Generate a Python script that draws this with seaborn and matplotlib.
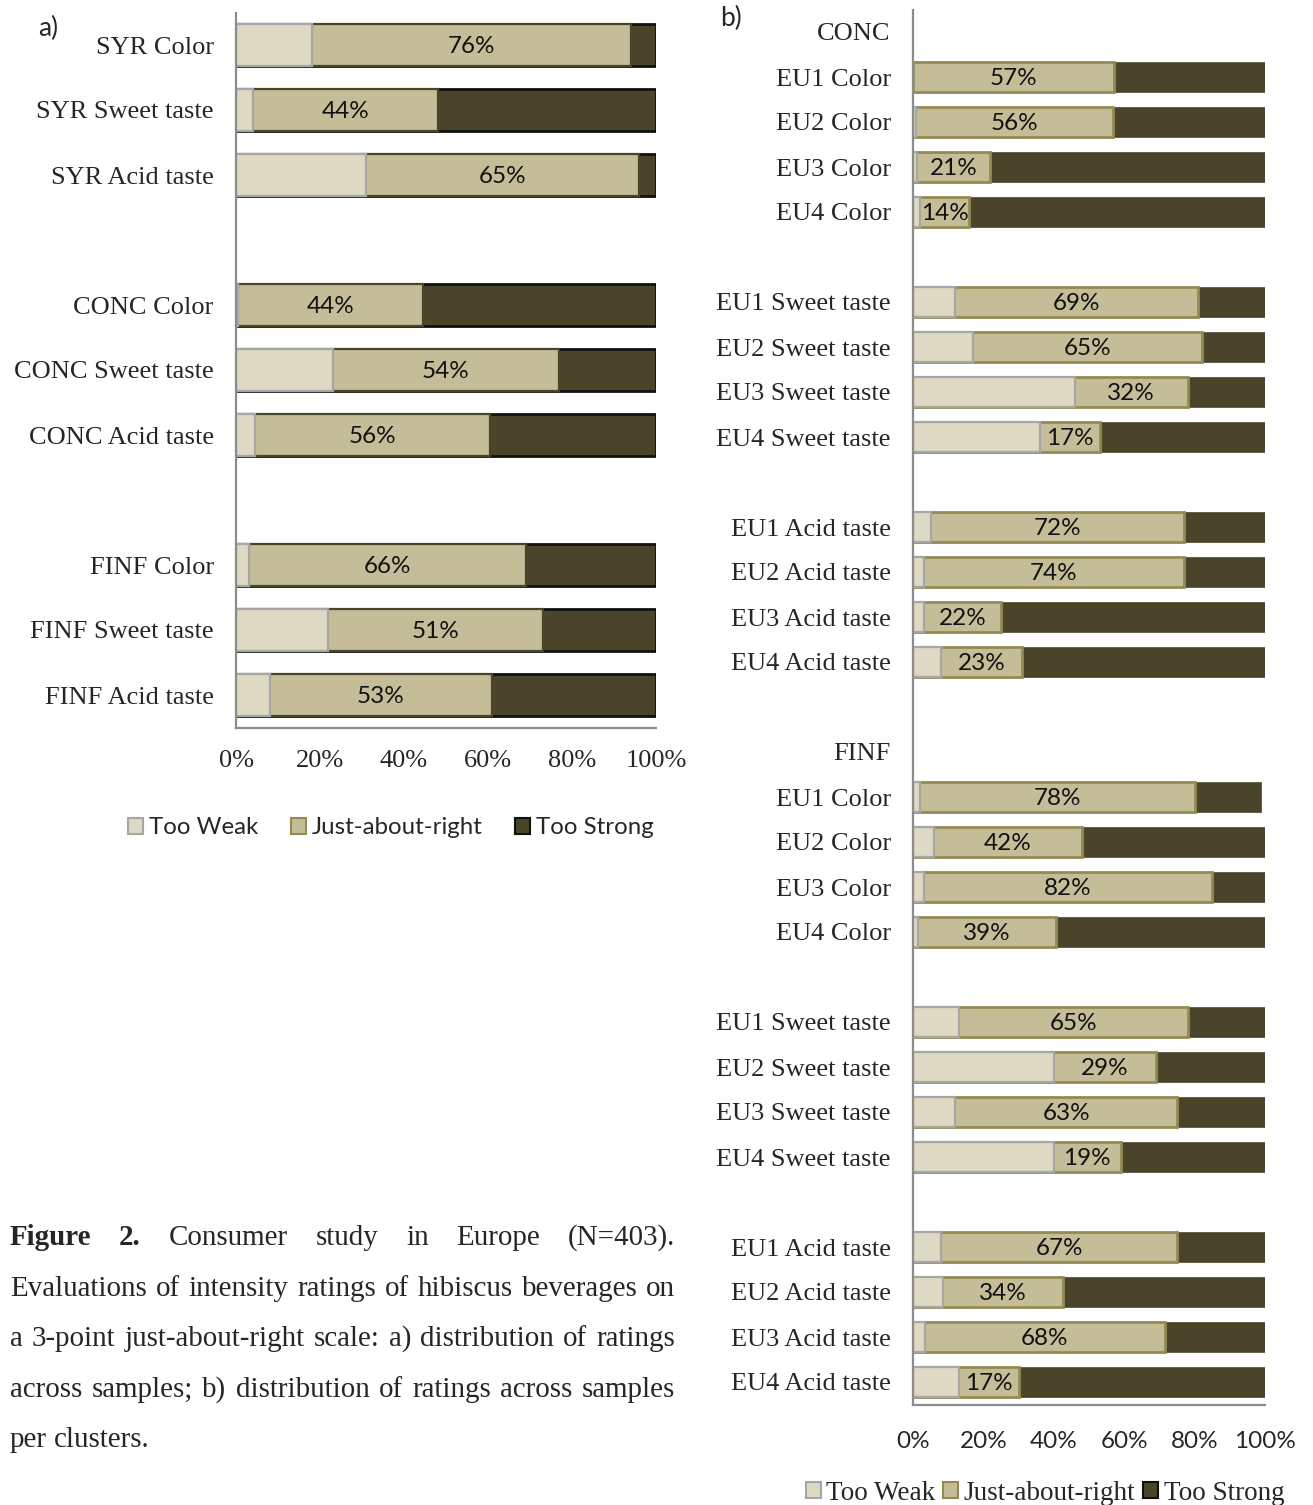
import numpy as np
import pandas as pd
import matplotlib
matplotlib.use("Agg")
import matplotlib.pyplot as plt
from matplotlib.patches import Patch
import seaborn as sns

# ---------------- data ----------------
categories = ["Too Weak", "Just-about-right", "Too Strong"]

# a) distribution of ratings across samples
a_labels = ["SYR Color", "SYR Sweet taste", "SYR Acid taste",
            "CONC Color", "CONC Sweet taste", "CONC Acid taste",
            "FINF Color", "FINF Sweet taste", "FINF Acid taste"]
a_too_weak = [18, 4, 31, 0.5, 23, 4.5, 3, 22, 8]
a_jar = [76, 44, 65, 44, 54, 56, 66, 51, 53]
a_too_strong = [6, 52, 4, 55.5, 23, 39.5, 31, 27, 39]

# b) distribution of ratings per cluster
b_groups = ["CONC", "FINF"]
b_labels = ["EU1 Color", "EU2 Color", "EU3 Color", "EU4 Color",
            "EU1 Sweet taste", "EU2 Sweet taste", "EU3 Sweet taste", "EU4 Sweet taste",
            "EU1 Acid taste", "EU2 Acid taste", "EU3 Acid taste", "EU4 Acid taste"]
b_conc_too_weak = [0, 0.8, 1, 2, 12, 17, 46, 36, 5, 3, 3, 8]
b_conc_jar = [57, 56, 21, 14, 69, 65, 32, 17, 72, 74, 22, 23]
b_conc_too_strong = [43, 43.2, 78, 84, 19, 18, 22, 47, 23, 23, 75, 69]
b_finf_too_weak = [2, 6, 3, 1.5, 13, 40, 12, 40, 8, 8.5, 3.5, 13]
b_finf_jar = [78, 42, 82, 39, 65, 29, 63, 19, 67, 34, 68, 17]
b_finf_too_strong = [19, 52, 15, 59.5, 22, 31, 25, 41, 25, 57.5, 28.5, 70]

x_ticks = [0, 20, 40, 60, 80, 100]
x_tick_labels = ["0%", "20%", "40%", "60%", "80%", "100%"]

caption_lines = [
    "Figure 2. Consumer study in Europe (N=403).",
    "Evaluations of intensity ratings of hibiscus beverages on",
    "a 3-point just-about-right scale: a) distribution of ratings",
    "across samples; b) distribution of ratings across samples",
    "per clusters.",
]

# ---------------- style ----------------
sns.set_style("white")
SERIF = ["Liberation Serif", "DejaVu Serif"]
SANS = ["Lato", "DejaVu Sans"]
plt.rcParams["font.family"] = SERIF

C_WEAK = "#DDD9C3"
C_JAR = "#C4BD97"
C_STRONG = "#4A452A"
SPINE = "#8C8C8C"

W, H = 1313, 1505
fig = plt.figure(figsize=(W / 100, H / 100), dpi=100)


def px_axes(left, top, right, bottom):
    return fig.add_axes([left / W, 1 - bottom / H, (right - left) / W, (bottom - top) / H])


def stacked(ax, pos, weak, jar, strong, height, edges, lws):
    df = pd.DataFrame({"pos": pos,
                       "weak": np.array(weak, float),
                       "jar": np.array(jar, float),
                       "strong": np.array(strong, float)})
    df["c1"] = df["weak"]
    df["c2"] = df["weak"] + df["jar"]
    df["c3"] = df["c2"] + df["strong"]
    for col, c, ec, lw in [("c3", C_STRONG, edges[2], lws[2]),
                           ("c2", C_JAR, edges[1], lws[1]),
                           ("c1", C_WEAK, edges[0], lws[0])]:
        sns.barplot(data=df, x=col, y="pos", orient="y", native_scale=True,
                    width=height, color=c, saturation=1, errorbar=None,
                    edgecolor=ec, linewidth=lw, ax=ax)
    return df


def style_axes(ax, nslots):
    ax.set_xlim(0, 100)
    ax.set_ylim(nslots - 0.5, -0.5)
    ax.set_xlabel("")
    ax.set_ylabel("")
    sns.despine(ax=ax)
    for s in ("left", "bottom"):
        ax.spines[s].set_color(SPINE)
        ax.spines[s].set_linewidth(1.6)
    ax.set_facecolor("white")


# ---------------- panel a ----------------
ax_a = px_axes(236, 12.5, 656, 727.5)
a_pos = [0, 1, 2, 4, 5, 6, 8, 9, 10]
df_a = stacked(ax_a, a_pos, a_too_weak, a_jar, a_too_strong, 0.65,
               edges=("#A6A6A6", "#4A452A", "#111111"), lws=(1.6, 1.6, 2.0))
style_axes(ax_a, 11)
ax_a.set_yticks(a_pos, a_labels)
ax_a.set_xticks(x_ticks, x_tick_labels)
ax_a.tick_params(axis="y", length=0, pad=16, labelsize=19)
ax_a.tick_params(axis="x", length=0, pad=16, labelsize=19)
for t in ax_a.get_yticklabels() + ax_a.get_xticklabels():
    t.set_family(SERIF)
for p, w, j in zip(df_a["pos"], df_a["weak"], df_a["jar"]):
    ax_a.text(w + j / 2, p + 0.03, f"{j:g}%", ha="center", va="center",
              fontsize=17.5, family=SANS, color="#111111")

# ---------------- panel b ----------------
ax_b = px_axes(913, 9.5, 1265, 1404.5)
b_pos, b_tick_pos, b_tick_lab = [], [], []
b_weak, b_jar, b_strong = [], [], []
for g, (wk, jr, st) in enumerate([
        (b_conc_too_weak, b_conc_jar, b_conc_too_strong),
        (b_finf_too_weak, b_finf_jar, b_finf_too_strong)]):
    base = g * 16
    b_tick_pos.append(base)
    b_tick_lab.append(b_groups[g])
    for i, lab in enumerate(b_labels):
        p = base + 1 + i + i // 4
        b_pos.append(p)
        b_tick_pos.append(p)
        b_tick_lab.append(lab)
    b_weak += wk
    b_jar += jr
    b_strong += st

df_b = stacked(ax_b, b_pos, b_weak, b_jar, b_strong, 0.667,
               edges=("#A6A6A6", "#948A54", C_STRONG), lws=(1.6, 2.0, 0.5))
style_axes(ax_b, 31)
ax_b.set_yticks(b_tick_pos, b_tick_lab)
ax_b.set_xticks(x_ticks, x_tick_labels)
ax_b.tick_params(axis="y", length=0, pad=16, labelsize=19)
ax_b.tick_params(axis="x", length=0, pad=19, labelsize=17.5)
for t in ax_b.get_yticklabels():
    t.set_family(SERIF)
for t in ax_b.get_xticklabels():
    t.set_family(SANS)
for p, w, j in zip(df_b["pos"], df_b["weak"], df_b["jar"]):
    ax_b.text(w + j / 2, p + 0.04, f"{j:g}%", ha="center", va="center",
              fontsize=17.5, family=SANS, color="#111111")

# ---------------- legends ----------------
handles = [Patch(facecolor=C_WEAK, edgecolor="#A6A6A6", linewidth=1.5),
           Patch(facecolor=C_JAR, edgecolor="#948A54", linewidth=1.5),
           Patch(facecolor=C_STRONG, edgecolor="#111111", linewidth=1.5)]
fig.legend(handles, categories, loc="center", bbox_to_anchor=(391 / W, 1 - 828 / H),
           ncol=3, frameon=False, handlelength=0.62, handleheight=0.62,
           handletextpad=0.25, columnspacing=1.35,
           prop={"family": SANS, "size": 17.3})
fig.legend(handles, categories, loc="center", bbox_to_anchor=(1045 / W, 1 - 1493 / H),
           ncol=3, frameon=False, handlelength=0.55, handleheight=0.55,
           handletextpad=0.2, columnspacing=0.3,
           prop={"family": SERIF, "size": 19.5})

# panel letters
fig.text(38 / W, 1 - 28 / H, "a)", ha="left", va="center", fontsize=19, family=SANS)
fig.text(720 / W, 1 - 18 / H, "b)", ha="left", va="center", fontsize=19, family=SANS)

# ---------------- justified caption ----------------
fig.canvas.draw()
renderer = fig.canvas.get_renderer()
cap_left, cap_right = 10, 675
baselines = [1245, 1296, 1346, 1397, 1447]
cap_size = 20.9
space_t = fig.text(0, 0, "a a", fontsize=cap_size, family=SERIF)
aa_t = fig.text(0, 0, "aa", fontsize=cap_size, family=SERIF)
space_w = (space_t.get_window_extent(renderer).width
           - aa_t.get_window_extent(renderer).width)
space_t.remove()
aa_t.remove()
for li, line in enumerate(caption_lines):
    words = line.split(" ")
    objs = []
    for wi, wd in enumerate(words):
        bold = (li == 0 and wi < 2)
        t = fig.text(0, 1 - baselines[li] / H, wd, fontsize=cap_size, family=SERIF,
                     fontweight="bold" if bold else "normal", va="baseline", ha="left")
        objs.append(t)
    widths = [t.get_window_extent(renderer).width for t in objs]
    if li < len(caption_lines) - 1 and len(words) > 1:
        gap = max((cap_right - cap_left - sum(widths)) / (len(words) - 1), 0.6 * space_w)
    else:
        gap = space_w
    x = cap_left
    for t, wdt in zip(objs, widths):
        t.set_x(x / W)
        x += wdt + gap

fig.savefig("out.png", dpi=100)
